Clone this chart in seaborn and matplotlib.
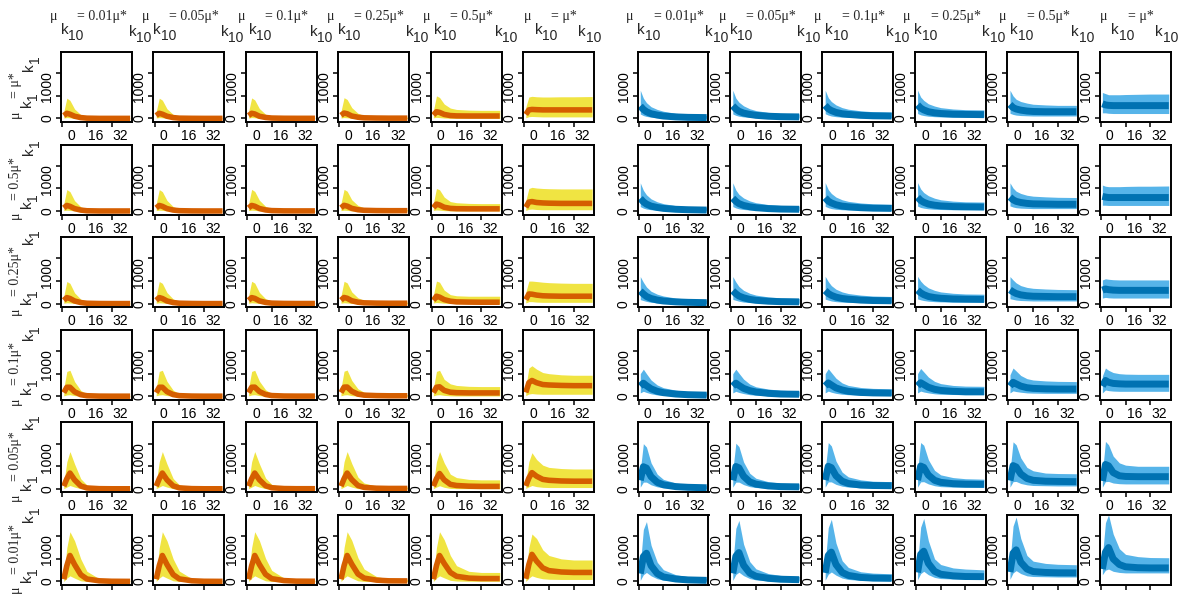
##################################################################################
# small multiples: posterior bands of a trajectory for a grid of mu_k1 / mu_k10
##################################################################################
import matplotlib
matplotlib.use('Agg')
import matplotlib.pyplot as plt
import matplotlib.transforms as mtrans
import seaborn as sns

##################################################################################
# DATA
##################################################################################
# time points shared by every panel
DAYS = [1, 3, 5, 8, 12, 16, 24, 32, 44]

# column factors (mu_k10) and row factors (mu_k1), '' means factor 1
K10_FACT = ['0.01', '0.05', '0.1', '0.25', '0.5', '']
K1_FACT = ['', '0.5', '0.25', '0.1', '0.05', '0.01']

# left block (yellow band / orange median), rows top->bottom, cols left->right
LEFT_HI = [
    [[300, 900, 800, 420, 170, 70, 30, 20, 20],
     [300, 900, 810, 430, 180, 80, 30, 20, 20],
     [300, 910, 820, 440, 190, 90, 40, 30, 30],
     [310, 920, 840, 480, 230, 130, 80, 60, 60],
     [340, 1000, 930, 640, 460, 400, 370, 360, 360],
     [500, 950, 980, 960, 950, 950, 960, 960, 970]],
    [[320, 950, 860, 460, 190, 80, 30, 20, 20],
     [320, 950, 860, 470, 200, 90, 30, 20, 20],
     [320, 960, 870, 480, 210, 100, 40, 30, 30],
     [330, 960, 880, 500, 250, 140, 90, 70, 70],
     [350, 1000, 940, 620, 420, 370, 340, 330, 330],
     [450, 1000, 1050, 1020, 1000, 990, 980, 980, 980]],
    [[330, 980, 900, 480, 200, 90, 30, 20, 20],
     [330, 980, 900, 490, 210, 100, 30, 20, 20],
     [330, 990, 910, 500, 220, 110, 40, 30, 30],
     [340, 990, 920, 520, 260, 150, 90, 70, 70],
     [380, 1000, 950, 600, 400, 350, 330, 330, 330],
     [500, 1000, 1000, 980, 950, 930, 910, 900, 900]],
    [[350, 1100, 1150, 650, 260, 100, 30, 20, 20],
     [350, 1100, 1150, 660, 270, 110, 30, 20, 20],
     [350, 1100, 1150, 670, 290, 120, 40, 30, 30],
     [350, 1110, 1160, 700, 330, 180, 100, 80, 80],
     [350, 1100, 1150, 750, 550, 480, 440, 430, 430],
     [400, 1250, 1350, 1200, 1050, 1000, 950, 930, 930]],
    [[250, 1200, 1650, 1100, 450, 170, 50, 20, 20],
     [250, 1200, 1650, 1100, 460, 180, 60, 20, 20],
     [250, 1200, 1650, 1110, 480, 200, 70, 30, 30],
     [250, 1200, 1650, 1120, 520, 260, 120, 80, 80],
     [250, 1200, 1650, 1150, 650, 500, 420, 400, 400],
     [300, 1200, 1600, 1300, 1050, 950, 900, 880, 880]],
    [[250, 1500, 2200, 1800, 1000, 450, 120, 40, 20],
     [250, 1500, 2200, 1800, 1000, 460, 130, 40, 20],
     [250, 1500, 2200, 1810, 1020, 490, 150, 60, 40],
     [250, 1500, 2200, 1820, 1050, 550, 220, 120, 100],
     [250, 1500, 2200, 1850, 1150, 700, 450, 400, 400],
     [300, 1500, 2100, 1900, 1400, 1150, 1000, 950, 950]],
]

LEFT_MID = [
    [[130, 230, 190, 100, 40, 15, 5, 5, 5],
     [130, 230, 190, 100, 40, 15, 8, 5, 5],
     [130, 230, 200, 100, 45, 20, 10, 8, 8],
     [140, 240, 210, 110, 55, 30, 20, 15, 15],
     [150, 300, 270, 180, 130, 115, 110, 110, 110],
     [180, 380, 400, 390, 380, 380, 380, 380, 380]],
    [[140, 250, 210, 110, 45, 15, 5, 5, 5],
     [140, 250, 210, 110, 45, 18, 8, 5, 5],
     [140, 250, 215, 115, 50, 22, 10, 8, 8],
     [145, 255, 220, 120, 60, 35, 22, 18, 18],
     [150, 310, 270, 170, 120, 105, 100, 100, 100],
     [170, 400, 420, 380, 360, 350, 340, 340, 340]],
    [[150, 270, 230, 120, 50, 20, 8, 5, 5],
     [150, 270, 230, 120, 50, 22, 10, 5, 5],
     [150, 270, 235, 125, 55, 25, 12, 8, 8],
     [155, 275, 240, 130, 65, 38, 25, 20, 20],
     [150, 330, 290, 180, 110, 80, 70, 65, 65],
     [180, 430, 420, 380, 350, 340, 330, 330, 330]],
    [[160, 400, 400, 200, 70, 25, 8, 5, 5],
     [160, 400, 400, 205, 75, 28, 10, 5, 5],
     [160, 400, 405, 210, 80, 32, 12, 8, 8],
     [165, 405, 410, 220, 95, 50, 30, 22, 22],
     [160, 400, 420, 260, 180, 160, 150, 150, 150],
     [170, 600, 700, 600, 520, 500, 480, 470, 470]],
    [[120, 450, 700, 400, 130, 40, 10, 5, 5],
     [120, 450, 700, 400, 135, 45, 12, 5, 5],
     [120, 450, 700, 405, 140, 50, 15, 8, 8],
     [120, 450, 700, 410, 150, 65, 30, 20, 20],
     [120, 450, 680, 400, 200, 150, 120, 110, 110],
     [130, 480, 720, 560, 420, 380, 350, 340, 340]],
    [[100, 700, 1150, 750, 300, 110, 30, 10, 5],
     [100, 700, 1150, 750, 305, 115, 32, 10, 5],
     [100, 700, 1150, 755, 315, 125, 40, 15, 10],
     [100, 700, 1150, 765, 330, 150, 60, 30, 25],
     [100, 700, 1150, 800, 400, 230, 150, 130, 130],
     [120, 750, 1200, 900, 600, 480, 420, 400, 400]],
]

LEFT_LO = [
    [[20, 40, 30, 10, 0, 0, 0, 0, 0],
     [20, 40, 30, 10, 0, 0, 0, 0, 0],
     [20, 40, 30, 10, 0, 0, 0, 0, 0],
     [20, 40, 30, 10, 0, 0, 0, 0, 0],
     [30, 50, 40, 20, 10, 10, 10, 10, 10],
     [30, 80, 90, 80, 70, 70, 70, 70, 70]],
    [[20, 40, 30, 10, 0, 0, 0, 0, 0],
     [20, 40, 30, 10, 0, 0, 0, 0, 0],
     [20, 40, 30, 10, 0, 0, 0, 0, 0],
     [20, 40, 30, 10, 0, 0, 0, 0, 0],
     [30, 50, 40, 20, 10, 10, 10, 10, 10],
     [30, 80, 90, 70, 60, 60, 60, 60, 60]],
    [[20, 40, 30, 10, 0, 0, 0, 0, 0],
     [20, 40, 30, 10, 0, 0, 0, 0, 0],
     [20, 40, 30, 10, 0, 0, 0, 0, 0],
     [20, 40, 30, 10, 0, 0, 0, 0, 0],
     [30, 50, 40, 20, 10, 5, 5, 5, 5],
     [30, 90, 90, 70, 60, 60, 60, 60, 60]],
    [[20, 60, 70, 30, 5, 0, 0, 0, 0],
     [20, 60, 70, 30, 5, 0, 0, 0, 0],
     [20, 60, 70, 30, 5, 0, 0, 0, 0],
     [20, 60, 70, 30, 5, 0, 0, 0, 0],
     [20, 60, 70, 40, 20, 15, 15, 15, 15],
     [30, 100, 120, 100, 90, 90, 90, 90, 90]],
    [[10, 80, 150, 80, 10, 0, 0, 0, 0],
     [10, 80, 150, 80, 10, 0, 0, 0, 0],
     [10, 80, 150, 80, 10, 0, 0, 0, 0],
     [10, 80, 150, 80, 10, 0, 0, 0, 0],
     [10, 80, 140, 70, 20, 10, 10, 10, 10],
     [20, 90, 150, 100, 70, 60, 60, 60, 60]],
    [[0, 150, 250, 150, 30, 5, 0, 0, 0],
     [0, 150, 250, 150, 30, 5, 0, 0, 0],
     [0, 150, 250, 150, 30, 5, 0, 0, 0],
     [0, 150, 250, 150, 30, 5, 0, 0, 0],
     [0, 150, 250, 160, 50, 20, 10, 10, 10],
     [0, 150, 250, 180, 120, 100, 90, 90, 90]],
]

# right block (light blue band / dark blue median)
RIGHT_HI = [
    [[1250, 900, 700, 520, 400, 320, 230, 180, 140],
     [1250, 900, 720, 560, 430, 350, 270, 230, 200],
     [1250, 920, 750, 600, 480, 410, 340, 300, 280],
     [1250, 950, 800, 650, 550, 480, 420, 390, 380],
     [1250, 1000, 850, 750, 680, 630, 600, 580, 580],
     [1150, 1100, 1050, 1050, 1050, 1060, 1070, 1080, 1080]],
    [[1250, 920, 720, 540, 410, 330, 240, 190, 150],
     [1250, 930, 740, 580, 450, 370, 290, 250, 220],
     [1260, 950, 780, 620, 500, 430, 360, 320, 300],
     [1260, 980, 820, 680, 570, 500, 440, 410, 400],
     [1250, 1020, 880, 780, 700, 660, 630, 610, 600],
     [1150, 1100, 1080, 1080, 1080, 1090, 1100, 1100, 1110]],
    [[1200, 950, 740, 550, 420, 340, 250, 200, 160],
     [1200, 960, 760, 590, 460, 380, 300, 260, 230],
     [1210, 980, 800, 640, 520, 450, 380, 340, 320],
     [1210, 1000, 850, 700, 590, 520, 460, 430, 420],
     [1200, 1050, 920, 800, 720, 680, 650, 630, 620],
     [1050, 1100, 1080, 1060, 1050, 1050, 1050, 1050, 1050]],
    [[1000, 1200, 1000, 720, 500, 380, 270, 200, 150],
     [1000, 1200, 1020, 760, 540, 420, 320, 270, 230],
     [1000, 1220, 1050, 800, 590, 480, 390, 350, 330],
     [1000, 1230, 1080, 850, 660, 560, 480, 450, 440],
     [950, 1250, 1120, 920, 780, 720, 680, 660, 650],
     [900, 1250, 1150, 1050, 1000, 980, 970, 970, 970]],
    [[800, 2000, 1850, 1150, 650, 420, 260, 190, 140],
     [800, 2020, 1870, 1190, 690, 470, 320, 260, 220],
     [820, 2050, 1900, 1230, 740, 530, 400, 340, 320],
     [820, 2050, 1930, 1290, 820, 620, 500, 450, 430],
     [750, 2080, 1950, 1370, 950, 800, 700, 680, 670],
     [700, 2100, 1950, 1450, 1150, 1050, 1000, 1000, 1000]],
    [[700, 2300, 2650, 1600, 850, 520, 300, 210, 150],
     [750, 2350, 2700, 1650, 880, 560, 350, 270, 220],
     [780, 2380, 2750, 1700, 920, 620, 430, 370, 340],
     [800, 2400, 2790, 1800, 1000, 750, 600, 550, 515],
     [850, 2450, 2850, 1900, 1150, 900, 800, 760, 740],
     [1100, 2600, 2950, 2100, 1450, 1200, 1100, 1060, 1050]],
]

RIGHT_MID = [
    [[550, 400, 300, 210, 150, 110, 70, 50, 40],
     [560, 420, 320, 240, 180, 140, 100, 80, 70],
     [580, 430, 350, 270, 210, 180, 140, 120, 110],
     [600, 460, 380, 300, 250, 220, 190, 180, 170],
     [620, 480, 420, 370, 330, 310, 300, 300, 300],
     [650, 600, 580, 570, 570, 570, 570, 570, 570]],
    [[560, 410, 310, 220, 160, 120, 80, 60, 45],
     [570, 430, 330, 250, 190, 150, 110, 90, 80],
     [590, 440, 360, 280, 220, 190, 150, 130, 120],
     [610, 470, 390, 310, 260, 230, 200, 190, 180],
     [620, 500, 430, 380, 340, 320, 310, 300, 300],
     [650, 620, 600, 600, 600, 600, 600, 600, 600]],
    [[560, 430, 320, 230, 160, 120, 80, 60, 45],
     [570, 440, 340, 260, 190, 150, 110, 90, 80],
     [580, 450, 370, 290, 230, 200, 160, 140, 130],
     [600, 480, 400, 320, 270, 240, 210, 200, 190],
     [610, 520, 450, 390, 350, 330, 320, 310, 310],
     [600, 650, 620, 600, 590, 590, 590, 590, 590]],
    [[450, 580, 470, 330, 220, 160, 100, 70, 50],
     [450, 580, 480, 350, 250, 190, 130, 100, 90],
     [460, 590, 500, 370, 280, 220, 170, 150, 140],
     [460, 600, 520, 400, 310, 260, 220, 200, 200],
     [450, 620, 550, 450, 380, 350, 330, 320, 320],
     [450, 700, 620, 570, 550, 540, 540, 540, 540]],
    [[380, 980, 920, 540, 290, 180, 100, 70, 50],
     [380, 990, 930, 560, 310, 210, 130, 100, 90],
     [390, 1000, 940, 580, 340, 240, 170, 150, 140],
     [390, 1010, 950, 610, 380, 290, 230, 210, 200],
     [370, 1030, 970, 660, 460, 380, 340, 330, 320],
     [350, 1080, 1020, 720, 580, 550, 540, 540, 540]],
    [[350, 1100, 1250, 700, 350, 200, 110, 70, 50],
     [360, 1120, 1280, 720, 370, 230, 140, 100, 80],
     [380, 1150, 1300, 750, 400, 270, 180, 150, 140],
     [400, 1200, 1340, 800, 450, 320, 250, 220, 215],
     [420, 1250, 1400, 850, 550, 440, 400, 385, 380],
     [550, 1300, 1500, 1000, 750, 650, 610, 600, 600]],
]

RIGHT_LO = [
    [[200, 130, 90, 60, 40, 30, 20, 10, 10],
     [200, 140, 100, 70, 50, 40, 30, 20, 20],
     [210, 150, 110, 80, 60, 50, 40, 30, 30],
     [220, 160, 130, 100, 80, 70, 60, 60, 60],
     [230, 180, 150, 130, 120, 110, 110, 110, 110],
     [250, 250, 230, 220, 220, 220, 220, 220, 220]],
    [[200, 130, 90, 60, 40, 30, 20, 10, 10],
     [200, 140, 100, 70, 50, 40, 30, 20, 20],
     [210, 150, 110, 80, 60, 50, 40, 30, 30],
     [220, 160, 130, 100, 80, 70, 60, 60, 60],
     [230, 180, 150, 130, 120, 110, 110, 110, 110],
     [260, 260, 250, 250, 250, 250, 250, 250, 250]],
    [[180, 140, 100, 60, 40, 30, 20, 10, 10],
     [190, 150, 110, 70, 50, 40, 30, 20, 20],
     [200, 160, 120, 90, 70, 60, 50, 40, 40],
     [210, 170, 140, 110, 90, 80, 70, 70, 70],
     [220, 190, 160, 140, 130, 120, 120, 120, 120],
     [250, 280, 260, 250, 250, 250, 250, 250, 250]],
    [[150, 220, 170, 110, 60, 40, 20, 10, 10],
     [150, 220, 170, 120, 70, 50, 30, 20, 20],
     [150, 230, 180, 130, 90, 70, 50, 40, 40],
     [150, 230, 190, 150, 110, 90, 80, 70, 70],
     [150, 240, 210, 180, 150, 140, 130, 130, 130],
     [150, 280, 250, 230, 220, 220, 220, 220, 220]],
    [[80, 300, 300, 180, 90, 50, 20, 10, 10],
     [80, 300, 300, 190, 100, 60, 30, 20, 20],
     [80, 310, 310, 200, 120, 80, 50, 40, 40],
     [80, 310, 320, 220, 140, 100, 80, 70, 70],
     [80, 320, 330, 240, 180, 150, 140, 130, 130],
     [80, 320, 330, 260, 230, 220, 220, 220, 220]],
    [[50, 300, 400, 250, 120, 60, 20, 10, 10],
     [50, 310, 410, 260, 130, 70, 30, 20, 20],
     [60, 320, 420, 280, 150, 90, 50, 40, 40],
     [80, 350, 450, 300, 180, 130, 110, 100, 100],
     [100, 380, 480, 350, 250, 220, 210, 200, 200],
     [300, 500, 550, 450, 400, 380, 380, 380, 380]],
]

##################################################################################
# STYLE / LAYOUT
##################################################################################
YELLOW = '#F0E442'
ORANGE = '#D55E00'
LBLUE = '#56B4E9'
DBLUE = '#0072B2'
SERIF = 'Liberation Serif'
SANS = 'Liberation Sans'

W, H = 1186, 595
LEFT_X = [61, 153.4, 245.8, 338.2, 430.6, 523]
RIGHT_X = [637.5, 730, 822.4, 914.8, 1007.2, 1099.6]
ROW_TOP = [52, 144.6, 237.2, 329.8, 422.4, 515]
PW, PH = 71, 70

sns.set_style('ticks')
plt.rcParams['font.family'] = [SANS, 'DejaVu Sans']

fig = plt.figure(figsize=(W / 100, H / 100), dpi=100)
renderer = fig.canvas.get_renderer()
pix = mtrans.IdentityTransform()

# tick labels sit ~9 px off their ticks, as in the original R figure
xshift = mtrans.ScaledTranslation(0.09, 0, fig.dpi_scale_trans)
yshift = mtrans.ScaledTranslation(0, 0.09, fig.dpi_scale_trans)


def panel(px, py, lo, mid, hi, band_col, line_col, lw, xlabels=True):
    ax = fig.add_axes([px / W, 1 - (py + PH) / H, PW / W, PH / H])
    ax.fill_between(DAYS, lo, hi, color=band_col, lw=0)
    sns.lineplot(x=DAYS, y=mid, ax=ax, color=line_col, lw=lw,
                 solid_capstyle='butt')
    ax.set_xlim(-0.8, 45.2)
    ax.set_ylim(-155, 2940)
    ax.tick_params(labelsize=10, length=3.5, width=1.1, pad=1.5,
                   color='black', labelcolor='black')
    ax.set_xticks([0, 16, 32])
    ax.set_xticklabels(['0', '16', '32'] if xlabels else ['', '', ''])
    ax.set_yticks([0, 1000, 2000])
    ax.set_yticklabels(['0', '1000', ''], rotation=90, va='center')
    for lab in ax.get_xticklabels():
        lab.set_transform(lab.get_transform() + xshift)
    lab = ax.get_yticklabels()[1]
    lab.set_transform(lab.get_transform() + yshift)
    for s in ax.spines.values():
        s.set_linewidth(1.4)
        s.set_color('black')
    ax.set_xlabel('')
    ax.set_ylabel('')
    return ax


for r in range(6):
    for c in range(6):
        last = (r == 5)
        panel(LEFT_X[c], ROW_TOP[r], LEFT_LO[r][c], LEFT_MID[r][c],
              LEFT_HI[r][c], YELLOW, ORANGE, 4.0, not last)
        panel(RIGHT_X[c], ROW_TOP[r], RIGHT_LO[r][c], RIGHT_MID[r][c],
              RIGHT_HI[r][c], LBLUE, DBLUE, 5.0, not last)


##################################################################################
# plotmath-like labels: mu[k[sub]] == f mu*[k[sub]]
##################################################################################
def measure(s, fam, size):
    t = fig.text(0, 0, s, fontfamily=fam, fontsize=size)
    w = t.get_window_extent(renderer).width
    t.remove()
    return w


def expr_label(sub, fact, cx, cy, vertical=False, d_k=14, d_sub=20.5):
    mid = '= ' + fact + 'μ*'
    w_mu = measure('μ', SERIF, 10)
    w_k = measure('k', SANS, 11)
    w_sub = measure(sub, SANS, 10)
    w_mid = measure(mid, SERIF, 10)
    a_k = w_mu + 3.5
    a_mid = a_k + w_k + w_sub - 6.5
    a_k2 = a_mid + w_mid + 1.5
    # (text, family, size, advance along text, drop below mu baseline)
    pieces = [('μ', SERIF, 10, 0, 0),
              ('k', SANS, 11, a_k, d_k),
              (sub, SANS, 10, a_k + w_k, d_sub),
              (mid, SERIF, 10, a_mid, 0),
              ('k', SANS, 11, a_k2, d_k + 1.5),
              (sub, SANS, 10, a_k2 + w_k, d_sub + 1.5)]
    total = a_k2 + w_k + w_sub
    for s, fam, size, adv, drop in pieces:
        if vertical:
            x = cx + drop
            y = H - cy - total / 2 + adv
            fig.text(x, y, s, fontfamily=fam, fontsize=size, rotation=90,
                     rotation_mode='anchor', ha='left', va='baseline',
                     transform=pix)
        else:
            x = cx - total / 2 + adv
            y = H - cy - drop
            fig.text(x, y, s, fontfamily=fam, fontsize=size, ha='left',
                     va='baseline', transform=pix)


# column headers
for c in range(6):
    for xs in (LEFT_X, RIGHT_X):
        expr_label('10', K10_FACT[c], xs[c] + PW / 2 + 4, 20)

# row labels
for r in range(6):
    expr_label('1', K1_FACT[r], 19, ROW_TOP[r] + PH / 2, vertical=True,
               d_k=12.5, d_sub=18.5)

plt.savefig('out.png', dpi=100)
